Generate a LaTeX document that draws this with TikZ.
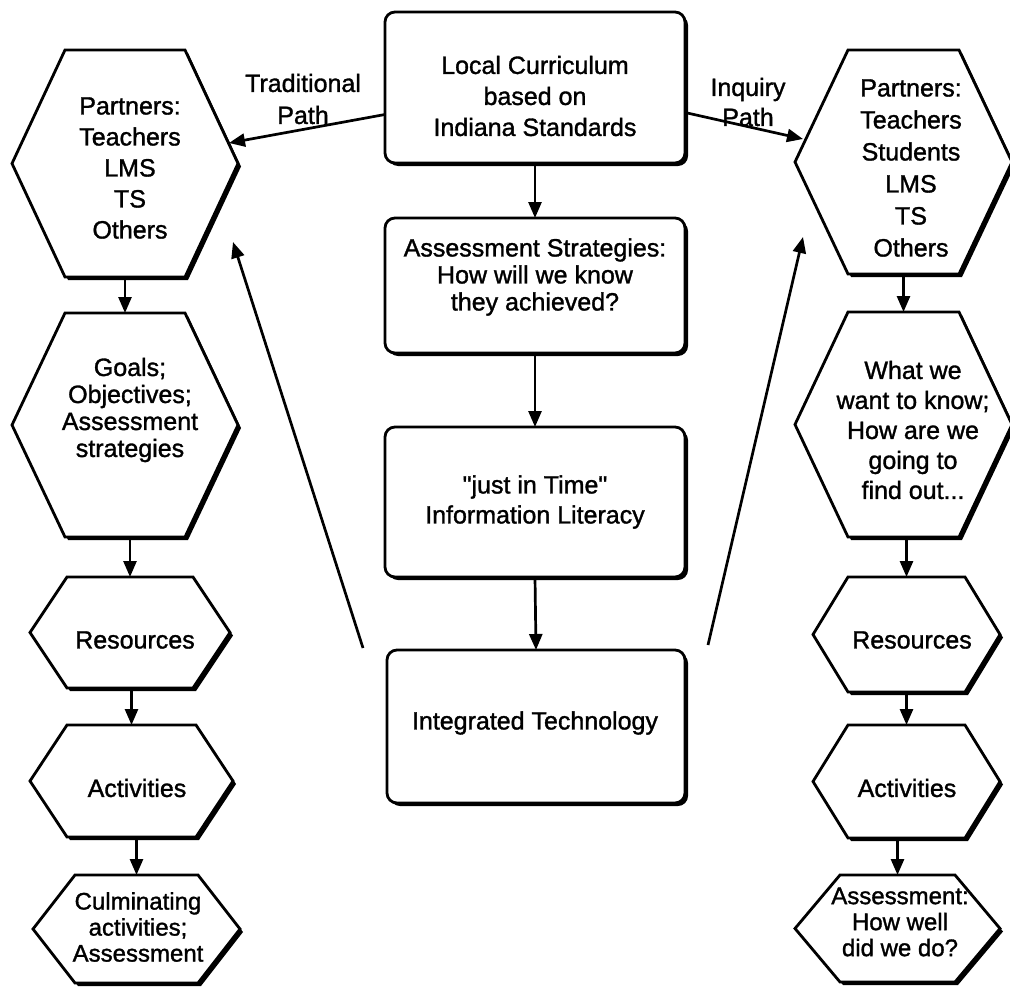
\documentclass[tikz,border=0pt]{standalone}
\usepackage{fontspec}
\setmainfont{Liberation Sans}[FakeBold=1.3]
\newfontfamily\qfont{Liberation Sans}[FakeBold=1.3]
\usetikzlibrary{arrows.meta,calc,shadows}
\tikzset{
  shapeline/.style={line width=2.8pt, line join=miter, fill=white,
    drop shadow={shadow xshift=3pt, shadow yshift=-3pt, fill=black, opacity=1}},
  cbox/.style={shapeline, draw, rectangle, rounded corners=10pt, inner sep=0pt, outer sep=0pt},
  bboxnode/.style={rectangle, draw=none, inner sep=0pt, outer sep=0pt},
  txt/.style={align=center, inner sep=0pt, font=\fontsize{25}{31}\selectfont},
  txtb/.style={align=center, inner sep=0pt, font=\fontsize{25}{27}\selectfont},
  txtc/.style={align=center, inner sep=0pt, font=\fontsize{24}{26}\selectfont},
  arr/.style={line width=2.7pt, -{Triangle[length=16pt,width=13pt]}},
}
\newcommand\hexnode[6]{%
  \draw[shapeline] ({#2+#6},#3) -- ({#4-#6},#3) -- (#4,{(#3+#5)/2}) -- ({#4-#6},#5)
     -- ({#2+#6},#5) -- (#2,{(#3+#5)/2}) -- cycle;
  \node[bboxnode, minimum width={#4-#2}, minimum height={#5-#3}] (#1) at ({(#2+#4)/2},{(#3+#5)/2}) {};
}
\begin{document}
\begin{tikzpicture}[x=1pt,y=-1pt]
\useasboundingbox (0,0) rectangle (1010,993);
% central boxes
\node[cbox, minimum width=300, minimum height=151] (b1) at (535,87.5) {};
\node[cbox, minimum width=300, minimum height=135] (b2) at (535,285.5) {};
\node[cbox, minimum width=300, minimum height=150] (b3) at (535,502) {};
\node[cbox, minimum width=298, minimum height=153] (b4) at (536,726.5) {};
\node[txt] (t1) at (535,96) {Local Curriculum\\based on\\Indiana Standards};
\node[txtb] (t2) at (535,277) {Assessment Strategies:\\How will we know\\they achieved?};
\node[txt, font=\fontsize{25}{30}\selectfont] (t3) at (535,502) {{\qfont"}just in Time{\qfont"}\\Information Literacy};
\node[txt] (t4) at (535,723) {Integrated Technology};
% left column
\hexnode{L1}{12}{50}{238}{277}{53}
\hexnode{L2}{12}{313}{238}{537}{53}
\hexnode{L3}{30}{577}{230}{688}{37}
\hexnode{L4}{30}{725}{233}{837}{37}
\hexnode{L5}{33}{875}{240}{983}{42}
% right column
\hexnode{R1}{795}{50}{1012}{274}{53}
\hexnode{R2}{795}{312}{1012}{537}{53}
\hexnode{R3}{813}{577}{1000}{692}{35}
\hexnode{R4}{813}{725}{1000}{838}{35}
\hexnode{R5}{795}{875}{1000}{982}{45}
% hexagon texts
\node[txt] (tl1) at (130,168) {Partners:\\Teachers\\LMS\\TS\\Others};
\node[txtb] (tl2) at (130,410) {Goals;\\Objectives;\\Assessment\\strategies};
\node[txt] (tl3) at (135,640) {Resources};
\node[txt] (tl4) at (137,788) {Activities};
\node[txtc] (tl5) at (138,927) {Culminating\\activities;\\Assessment};
\node[txt, font=\fontsize{25}{32}\selectfont] (tr1) at (911,168) {Partners:\\Teachers\\Students\\LMS\\TS\\Others};
\node[txt, font=\fontsize{25}{30}\selectfont] (tr2) at (913,430) {What we\\want to know;\\How are we\\going to\\find out...};
\node[txt] (tr3) at (912,640) {Resources};
\node[txt] (tr4) at (907,788) {Activities};
\node[txtc] (tr5) at (900,922) {Assessment:\\How well\\did we do?};
% path labels
\node[txt, font=\fontsize{25}{32}\selectfont] (lt) at (303,99) {Traditional\\Path};
\node[txt, font=\fontsize{25}{30}\selectfont] (li) at (748,102) {Inquiry\\Path};
% central arrows
\draw[arr] (b1.south) -- (b2.north);
\draw[arr] (b2.south) -- (b3.north);
\draw[arr] (b3.south) -- (b4.north);
% column arrows
\draw[arr] (L1.south) -- (L2.north);
\draw[arr] (L2.south -| L3.north) -- (L3.north);
\draw[arr] (L3.south -| L4.north) -- (L4.north);
\draw[arr] (L4.south -| L5.north) -- (L5.north);
\draw[arr] (R1.south) -- (R2.north);
\draw[arr] (R2.south -| R3.north) -- (R3.north);
\draw[arr] (R3.south -| R4.north) -- (R4.north);
\draw[arr] (R4.south -| R5.north) -- (R5.north);
% path arrows
\coordinate (L1tip) at (229,143);
\coordinate (R1tip) at (803,139);
\draw[arr] ([yshift=-27pt]b1.west) -- (L1tip);
\draw[arr] ([yshift=-25pt]b1.east) -- (R1tip);
% return arrows
\coordinate (dl0) at (363,648);
\coordinate (dl1) at (233,242);
\coordinate (dr0) at (708,645);
\coordinate (dr1) at (803,237);
\draw[arr] (dl0) -- (dl1);
\draw[arr] (dr0) -- (dr1);
\end{tikzpicture}
\end{document}
